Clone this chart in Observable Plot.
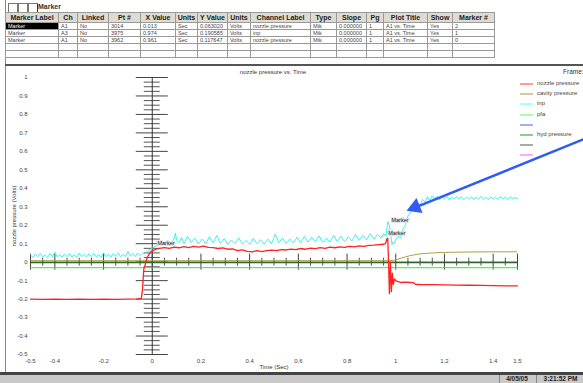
<!DOCTYPE html>
<html><head><meta charset="utf-8">
<script src="https://cdn.jsdelivr.net/npm/d3@7"></script>
<script src="https://cdn.jsdelivr.net/npm/@observablehq/plot@0.6"></script>
<style>
body{margin:0;width:583px;height:383px;overflow:hidden;background:#fff;font-family:"Liberation Sans",Arial,sans-serif;position:relative}
.abs{position:absolute;white-space:nowrap}
table{border-collapse:collapse;position:absolute;left:5px;top:12px;table-layout:fixed;width:489px}
td,th{border:1px solid #9a9a9a;padding:0 0 0 2px;font-size:5.5px;line-height:6px;height:6px;white-space:nowrap;overflow:hidden;color:#444;font-weight:normal;text-align:left}
th{font-weight:bold;font-size:7px;line-height:9px;height:9px;background:#dedbd0;color:#222;text-align:center;padding:0}
td.sel{background:#000;color:#fff}
.leg{position:absolute;left:520px;width:13px;height:2px}
.legt{position:absolute;left:537px;font-size:6px;color:#444;white-space:nowrap}
#chart{position:absolute;left:0;top:67px}
</style>
</head><body>
<div id="root"></div>
<script>
// ---- table content ----
const colHeaders = ["Marker Label","Ch","Linked","Pt #","X Value","Units","Y Value","Units","Channel Label","Type","Slope","Pg","Plot Title","Show","Marker #"];
const colWidths = [53,19,31,32,35,22,30,23,60,26,30,17,44,25,42];
const markerRow1 = ["Marker","A1","No","3014","0.013","Sec","0.063020","Volts","nozzle pressure","Mtk","0.000000","1","A1 vs. Time","Yes","2"];
const markerRow2 = ["Marker","A3","No","3975","0.974","Sec","0.190585","Volts","inp","Mtk","0.000000","1","A1 vs. Time","Yes","1"];
const markerRow3 = ["Marker","A1","No","3962","0.961","Sec","0.117647","Volts","nozzle pressure","Mtk","0.000000","1","A1 vs. Time","Yes","0"];

// ---- chart data ----
const xTicks = [-0.5,-0.4,-0.2,0,0.2,0.4,0.6,0.8,1,1.2,1.4,1.5];
const yTicks = [1,0.9,0.8,0.7,0.6,0.5,0.4,0.3,0.2,0.1,0,-0.1,-0.2,-0.3,-0.4,-0.5];
const seriesNames = ["nozzle pressure","cavity pressure","inp","pfa","","hyd pressure","",""];
const legendColors = ["#ff9a9a","#d6cc9a","#aaffff","#aaffaa","#aaaaff","#8fcc8f","#aaaaaa","#ffaaff"];

const nozzle = [[-0.5,-0.2],[-0.45,-0.201],[-0.4,-0.2],[-0.35,-0.202],[-0.3,-0.2],[-0.25,-0.201],[-0.2,-0.2],[-0.15,-0.201],[-0.1,-0.2],[-0.06,-0.199],[-0.045,-0.196],[-0.04,-0.15],[-0.037,-0.08],[-0.034,-0.03],[-0.03,-0.02],[-0.025,0.008],[-0.02,0.028],[-0.012,0.045],[-0.005,0.058],[0.005,0.064],[0.015,0.07],[0.03,0.075],[0.05,0.079],[0.07,0.075],[0.09,0.082],[0.11,0.078],[0.13,0.084],[0.15,0.079],[0.17,0.086],[0.19,0.081],[0.21,0.087],[0.23,0.08],[0.25,0.079],[0.27,0.074],[0.29,0.077],[0.31,0.07],[0.33,0.072],[0.35,0.063],[0.37,0.066],[0.39,0.058],[0.41,0.056],[0.43,0.062],[0.45,0.057],[0.47,0.063],[0.49,0.065],[0.51,0.062],[0.53,0.068],[0.55,0.066],[0.57,0.071],[0.59,0.068],[0.61,0.074],[0.63,0.07],[0.65,0.076],[0.67,0.073],[0.69,0.079],[0.71,0.075],[0.73,0.081],[0.75,0.078],[0.77,0.083],[0.79,0.08],[0.81,0.086],[0.83,0.083],[0.85,0.088],[0.87,0.086],[0.89,0.091],[0.91,0.092],[0.93,0.095],[0.95,0.097],[0.958,0.1],[0.963,0.124],[0.967,0.13],[0.97,0.02],[0.974,-0.17],[0.978,0.0],[0.982,-0.16],[0.986,-0.06],[0.99,-0.12],[0.995,-0.09],[1.0,-0.1],[1.01,-0.106],[1.02,-0.11],[1.04,-0.108],[1.06,-0.11],[1.075,-0.112],[1.08,-0.12],[1.1,-0.121],[1.15,-0.122],[1.2,-0.123],[1.25,-0.124],[1.3,-0.125],[1.35,-0.126],[1.4,-0.127],[1.45,-0.128],[1.5,-0.128]];

const inp = [[-0.5,0.04],[-0.49,0.025],[-0.48,0.045],[-0.47,0.03],[-0.46,0.048],[-0.45,0.028],[-0.44,0.04],[-0.43,0.026],[-0.42,0.046],[-0.41,0.03],[-0.40,0.055],[-0.39,0.028],[-0.38,0.042],[-0.37,0.027],[-0.36,0.044],[-0.35,0.03],[-0.34,0.047],[-0.33,0.028],[-0.32,0.04],[-0.31,0.025],[-0.30,0.05],[-0.29,0.03],[-0.28,0.043],[-0.27,0.027],[-0.26,0.045],[-0.25,0.03],[-0.24,0.048],[-0.23,0.029],[-0.22,0.041],[-0.21,0.026],[-0.20,0.052],[-0.19,0.03],[-0.18,0.044],[-0.17,0.028],[-0.16,0.046],[-0.15,0.031],[-0.14,0.05],[-0.13,0.029],[-0.12,0.043],[-0.11,0.03],[-0.10,0.058],[-0.09,0.032],[-0.08,0.047],[-0.07,0.03],[-0.06,0.05],[-0.05,0.035],[-0.04,0.048],[-0.03,0.045],[-0.02,0.06],[-0.01,0.068],[0.0,0.075],[0.01,0.085],[0.02,0.09],[0.03,0.1],[0.04,0.092],[0.05,0.105],[0.06,0.095],[0.07,0.11],[0.08,0.1],[0.09,0.13],[0.095,0.158],[0.1,0.12],[0.11,0.105],[0.12,0.135],[0.13,0.1],[0.145,0.14],[0.16,0.105],[0.175,0.13],[0.19,0.098],[0.205,0.125],[0.22,0.1],[0.235,0.138],[0.25,0.105],[0.265,0.145],[0.28,0.1],[0.295,0.128],[0.31,0.095],[0.325,0.12],[0.34,0.1],[0.355,0.132],[0.37,0.098],[0.385,0.118],[0.40,0.095],[0.415,0.13],[0.43,0.1],[0.445,0.122],[0.46,0.097],[0.475,0.125],[0.49,0.1],[0.505,0.152],[0.52,0.105],[0.535,0.13],[0.55,0.1],[0.565,0.125],[0.58,0.104],[0.595,0.135],[0.61,0.105],[0.625,0.14],[0.64,0.108],[0.655,0.135],[0.67,0.11],[0.685,0.142],[0.70,0.108],[0.715,0.13],[0.73,0.11],[0.745,0.145],[0.76,0.112],[0.775,0.14],[0.79,0.11],[0.805,0.138],[0.82,0.115],[0.835,0.15],[0.85,0.118],[0.865,0.145],[0.88,0.12],[0.895,0.155],[0.91,0.125],[0.925,0.15],[0.94,0.13],[0.95,0.155],[0.96,0.14],[0.965,0.2],[0.968,0.22],[0.975,0.19],[0.98,0.14],[0.985,0.095],[0.99,0.11],[0.995,0.1],[1.0,0.125],[1.01,0.14],[1.02,0.13],[1.03,0.18],[1.04,0.2],[1.05,0.25],[1.06,0.27],[1.07,0.3],[1.08,0.29],[1.09,0.32],[1.1,0.31],[1.11,0.34],[1.12,0.325],[1.13,0.355],[1.14,0.335],[1.15,0.36],[1.16,0.34],[1.17,0.358],[1.18,0.338],[1.19,0.356],[1.2,0.34],[1.21,0.355],[1.22,0.338],[1.23,0.352],[1.24,0.34],[1.25,0.356],[1.26,0.342],[1.27,0.354],[1.28,0.338],[1.29,0.352],[1.3,0.342],[1.31,0.355],[1.32,0.34],[1.33,0.353],[1.34,0.34],[1.35,0.356],[1.36,0.342],[1.37,0.352],[1.38,0.338],[1.39,0.354],[1.4,0.342],[1.41,0.352],[1.42,0.34],[1.43,0.355],[1.44,0.342],[1.45,0.352],[1.46,0.34],[1.47,0.353],[1.48,0.343],[1.49,0.35],[1.5,0.345]];

const cavity = [[-0.5,0.008],[0.0,0.008],[0.5,0.008],[0.97,0.008],[1.0,0.012],[1.03,0.025],[1.06,0.036],[1.1,0.045],[1.15,0.05],[1.2,0.053],[1.3,0.055],[1.4,0.056],[1.5,0.056]];
const pfa = [[-0.5,-0.03],[1.5,-0.03]];
const hyd = [[-0.5,0.0],[1.5,0.0]];

const markers = [{x:0.013,y:0.063020},{x:0.974,y:0.190585},{x:0.961,y:0.117647}];
const arrowAnno = [{x1:1.77,y1:0.665,x2:1.043,y2:0.276}];

// ---- build page ----
const root = document.getElementById("root");
let html = '';
html += '<div class="abs" style="left:5px;top:0;width:1px;height:372px;background:#888"></div>';
html += '<div class="abs" style="left:8px;top:3px;width:8px;height:8px;border:1px solid #777"></div>';
html += '<div class="abs" style="left:18px;top:3px;width:8px;height:8px;border:1px solid #777"></div>';
html += '<div class="abs" style="left:28px;top:3px;width:8px;height:8px;border:1px solid #777;border-right:1px solid #333"></div>';
html += '<div class="abs" style="left:38px;top:3px;font-size:7px;font-weight:bold;color:#333">Marker</div>';
html += '<table><colgroup>' + colWidths.map(w => `<col style="width:${w}px">`).join('') + '</colgroup>';
html += '<tr>' + colHeaders.map(h => `<th>${h}</th>`).join('') + '</tr>';
[markerRow1, markerRow2, markerRow3].forEach((r, ri) => {
  html += '<tr>' + r.map((c, ci) => `<td${ri===0&&ci===0?' class="sel"':''}>${c}</td>`).join('') + '</tr>';
});
for (let k = 0; k < 2; k++) html += '<tr>' + colHeaders.map(() => '<td></td>').join('') + '</tr>';
html += '</table>';
html += '<div class="abs" style="left:5px;top:64px;width:578px;height:2px;background:#555"></div>';
// title and frame
html += '<div class="abs" style="left:273px;top:69px;transform:translateX(-50%);font-size:6px;color:#333">nozzle pressure vs. Time</div>';
html += '<div class="abs" style="left:563px;top:68px;font-size:6.5px;color:#333">Frame:</div>';
// legend
seriesNames.forEach((n, i) => {
  const y = 84 + i * 10.2;
  html += `<div class="leg" style="top:${y-1}px;background:${legendColors[i]}"></div>`;
  if (n) html += `<div class="legt" style="top:${y-4}px">${n}</div>`;
});
// axis labels
html += '<div class="abs" style="left:14px;top:216px;transform:translate(-50%,-50%) rotate(-90deg);font-size:6px;color:#333">nozzle pressure (Volts)</div>';
html += '<div class="abs" style="left:274px;top:364px;transform:translateX(-50%);font-size:6px;color:#333">Time (Sec)</div>';
// status bar
html += '<div class="abs" style="left:0;top:372px;width:583px;height:3px;background:#444"></div>';
html += '<div class="abs" style="left:0;top:375px;width:583px;height:8px;background:#c9c9c9"></div>';
html += '<div class="abs" style="left:499px;top:375px;width:34px;height:8px;border-left:1px solid #888;font-size:6.5px;font-weight:bold;color:#222;text-align:center;line-height:8px">4/05/05</div>';
html += '<div class="abs" style="left:536px;top:375px;width:47px;height:8px;border-left:1px solid #888;font-size:6.5px;font-weight:bold;color:#222;text-align:center;line-height:8px">3:21:52 PM</div>';
html += '<div id="chart"></div>';
root.innerHTML = html;

const isMajor = v => Math.abs(Math.round(v * 10) - v * 10) < 1e-6;
const yMinor = d3.range(-0.5, 1.0001, 0.025).filter(v => !isMajor(v));
const xMinor = d3.range(-0.5, 1.5001, 0.05).filter(v => !xTicks.some(t => Math.abs(t - v) < 1e-6));
const fmt = d => String(d);

const chart = Plot.plot({
  width: 583, height: 305,
  marginLeft: 30, marginRight: 66, marginTop: 10, marginBottom: 18,
  x: {domain: [-0.5, 1.5]},
  y: {domain: [-0.5, 1]},
  style: {background: "transparent", fontFamily: "Liberation Sans, Arial, sans-serif", fontSize: "6px", color: "#444"},
  marks: [
    Plot.axisY({ticks: yTicks, tickSize: 0, tickPadding: 3, tickFormat: fmt, label: null, fill: "#444"}),
    Plot.axisX({ticks: xTicks, tickSize: 0, tickPadding: 4, tickFormat: fmt, label: null, fill: "#444"}),
    // crossing axes
    Plot.ruleY(yTicks, {y: d => d, x1: () => 0, x2: () => 0, insetLeft: -16, insetRight: -16, stroke: "#444", strokeWidth: 1}),
    Plot.ruleY(yMinor, {y: d => d, x1: () => 0, x2: () => 0, insetLeft: -8, insetRight: -8, stroke: "#555", strokeWidth: 1}),
    Plot.ruleX([0], {y1: -0.5, y2: 1, stroke: "#333", strokeWidth: 1}),
    Plot.ruleX(xTicks, {x: d => d, y1: () => 0, y2: () => 0, insetTop: -8, insetBottom: -8, stroke: "#444", strokeWidth: 1}),
    Plot.ruleX(xMinor, {x: d => d, y1: () => 0, y2: () => 0, insetTop: -4, insetBottom: -4, stroke: "#555", strokeWidth: 1}),
    // series
    Plot.line(pfa, {stroke: "#3fe03f", strokeWidth: 1}),
    Plot.ruleY([0], {x1: -0.5, x2: 1.5, stroke: "#111", strokeWidth: 1}),
    Plot.line(hyd, {stroke: "#2a6a2a", strokeWidth: 1.2, dy: 0.5}),
    Plot.line(cavity, {stroke: "#a89a40", strokeWidth: 1, strokeDasharray: "3,1"}),
    Plot.line(inp, {stroke: "#3df2f2", strokeWidth: 1}),
    Plot.line(nozzle, {stroke: "#ff2020", strokeWidth: 1.3}),
    // markers
    Plot.text(markers, {x: "x", y: "y", text: () => "Marker", textAnchor: "start", dx: 2, dy: -7, fontSize: 5.5, fill: "#222", stroke: "#e4e4e4", strokeWidth: 2, paintOrder: "stroke"}),
    // annotation arrow
    Plot.arrow(arrowAnno, {x1: "x1", y1: "y1", x2: "x2", y2: "y2", stroke: "#2f5cf2", strokeWidth: 2.5, headLength: 0, insetEnd: 8}),
    Plot.dot(arrowAnno, {x: "x2", y: "y2", symbol: "triangle", r: 6, fill: "#2f5cf2", stroke: "none", rotate: () => 248, dx: 9, dy: -4})
  ]
});
document.getElementById("chart").appendChild(chart);
</script>
</body></html>
